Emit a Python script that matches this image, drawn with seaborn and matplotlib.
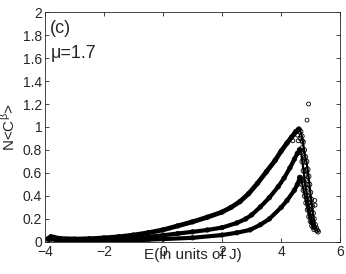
import matplotlib
matplotlib.use('Agg')
import matplotlib.pyplot as plt
import seaborn as sns

# values (E in units of J, N<C^beta>)
e_top = [-3.88, -3.8, -3.7, -3.5, -3.0, -2.5, -2.0, -1.5, -1.0, -0.5, 0.0, 0.5, 1.0, 1.5,
         2.0, 2.3, 2.6, 2.9, 3.2, 3.5, 3.8, 4.0, 4.2, 4.35, 4.5, 4.6]
y_top = [0.03, 0.045, 0.04, 0.03, 0.025, 0.028, 0.035, 0.045, 0.06, 0.08, 0.105, 0.14, 0.175, 0.215,
         0.26, 0.3, 0.35, 0.42, 0.51, 0.61, 0.71, 0.79, 0.86, 0.91, 0.96, 0.98]

e_mid = [-3.88, -3.8, -3.6, -3.0, -2.5, -2.0, -1.5, -1.0, -0.5, 0.0, 0.5, 1.0, 1.5, 2.0,
         2.5, 2.8, 3.0, 3.3, 3.6, 3.9, 4.1, 4.3, 4.45, 4.55, 4.63]
y_mid = [0.025, 0.035, 0.02, 0.012, 0.013, 0.016, 0.021, 0.03, 0.044, 0.058, 0.073, 0.088, 0.104, 0.125,
         0.165, 0.2, 0.235, 0.305, 0.385, 0.48, 0.555, 0.645, 0.72, 0.77, 0.80]

e_bot = [-3.88, -3.8, -3.5, -3.0, -2.0, -1.0, -0.5, 0.0, 1.0, 2.0, 2.5, 2.95, 3.3, 3.6,
         4.0, 4.2, 4.45, 4.55, 4.64]
y_bot = [0.02, 0.025, 0.01, 0.006, 0.007, 0.012, 0.02, 0.025, 0.036, 0.06, 0.08, 0.105, 0.15, 0.2,
         0.3, 0.36, 0.45, 0.5, 0.56]

# falling edges past the peaks
e_top_fall = [4.6, 4.66, 4.7, 4.74, 4.78, 4.82, 4.86, 4.9, 4.93, 4.96, 4.99, 5.02, 5.05, 5.08,
              5.11, 5.15, 5.19, 5.22, 5.25]
y_top_fall = [0.98, 0.96, 0.92, 0.87, 0.80, 0.74, 0.70, 0.63, 0.57, 0.50, 0.43, 0.37, 0.31, 0.25,
              0.20, 0.15, 0.12, 0.10, 0.09]
e_mid_fall = [4.63, 4.68, 4.72, 4.76, 4.8, 4.84, 4.88, 4.92, 4.96, 5.0, 5.05, 5.1]
y_mid_fall = [0.80, 0.78, 0.70, 0.62, 0.54, 0.47, 0.40, 0.34, 0.28, 0.22, 0.17, 0.13]
e_bot_fall = [4.64, 4.68, 4.72, 4.76, 4.8, 4.85, 4.9, 4.95, 5.0, 5.05, 5.12]
y_bot_fall = [0.56, 0.54, 0.50, 0.45, 0.40, 0.34, 0.28, 0.22, 0.18, 0.14, 0.11]

# stray points
e_stray = [4.93, 4.88, 5.14, 5.15, 4.72, 4.64, 4.55, 4.58, 4.75, 4.83, 4.97, 5.03, 4.8, 4.9,
           4.45, 4.4, 4.7, 4.85, 5.0]
y_stray = [1.20, 1.06, 0.36, 0.32, 0.88, 0.90, 0.93, 0.88, 0.72, 0.58, 0.38, 0.26, 0.66, 0.50,
           0.94, 0.88, 0.82, 0.62, 0.32]

x_ticks = [-4, -2, 0, 2, 4, 6]
y_ticks = [0, 0.2, 0.4, 0.6, 0.8, 1, 1.2, 1.4, 1.6, 1.8, 2]
y_tick_labels = ['0', '0.2', '0.4', '0.6', '0.8', '1', '1.2', '1.4', '1.6', '1.8', '2']

sns.set_style('ticks')
plt.rcParams['font.family'] = ['Liberation Sans', 'DejaVu Sans']
plt.rcParams['mathtext.fontset'] = 'custom'
plt.rcParams['mathtext.rm'] = 'Liberation Sans'

fig = plt.figure(figsize=(3.46, 2.74), dpi=100)
ax = fig.add_axes([0.130, 0.117, 0.853, 0.839])

for ex, ey, lw in [(e_top, y_top, 3.4), (e_mid, y_mid, 3.0), (e_bot, y_bot, 3.0)]:
    sns.lineplot(x=ex, y=ey, color='black', linewidth=lw, sort=False, ax=ax)
    sns.scatterplot(x=ex, y=ey, marker='o', s=10, facecolor='none', edgecolor='black',
                    linewidth=0.6, ax=ax)

for ex, ey in [(e_top_fall, y_top_fall), (e_mid_fall, y_mid_fall), (e_bot_fall, y_bot_fall)]:
    sns.lineplot(x=ex, y=ey, color='black', linewidth=1.6, sort=False, ax=ax)
    sns.scatterplot(x=ex, y=ey, marker='o', s=12, facecolor='none', edgecolor='black',
                    linewidth=0.6, ax=ax)

sns.scatterplot(x=e_stray, y=y_stray, marker='o', s=8, facecolor='none', edgecolor='black',
                linewidth=0.6, ax=ax)

ax.set_xlim(-4, 6)
ax.set_ylim(0, 2)
ax.set_xticks(x_ticks)
ax.set_yticks(y_ticks)
ax.set_yticklabels(y_tick_labels)
ax.tick_params(direction='in', length=3, width=0.6, labelsize=10, top=True, right=True, pad=2)
for sp in ax.spines.values():
    sp.set_linewidth(0.6)

ax.set_xlabel('E(in units of J)', fontsize=11)
ax.xaxis.set_label_coords(0.5, -0.025)
ax.set_ylabel(r'N<C$^{\mathrm{\beta}}$>', fontsize=11)
ax.yaxis.set_label_coords(-0.093, 0.5)

ax.text(-3.82, 1.86, '(c)', fontsize=13, va='center', ha='left')
ax.text(-3.82, 1.64, 'μ=1.7', fontsize=13, va='center', ha='left')

fig.savefig('out.png', dpi=100)
